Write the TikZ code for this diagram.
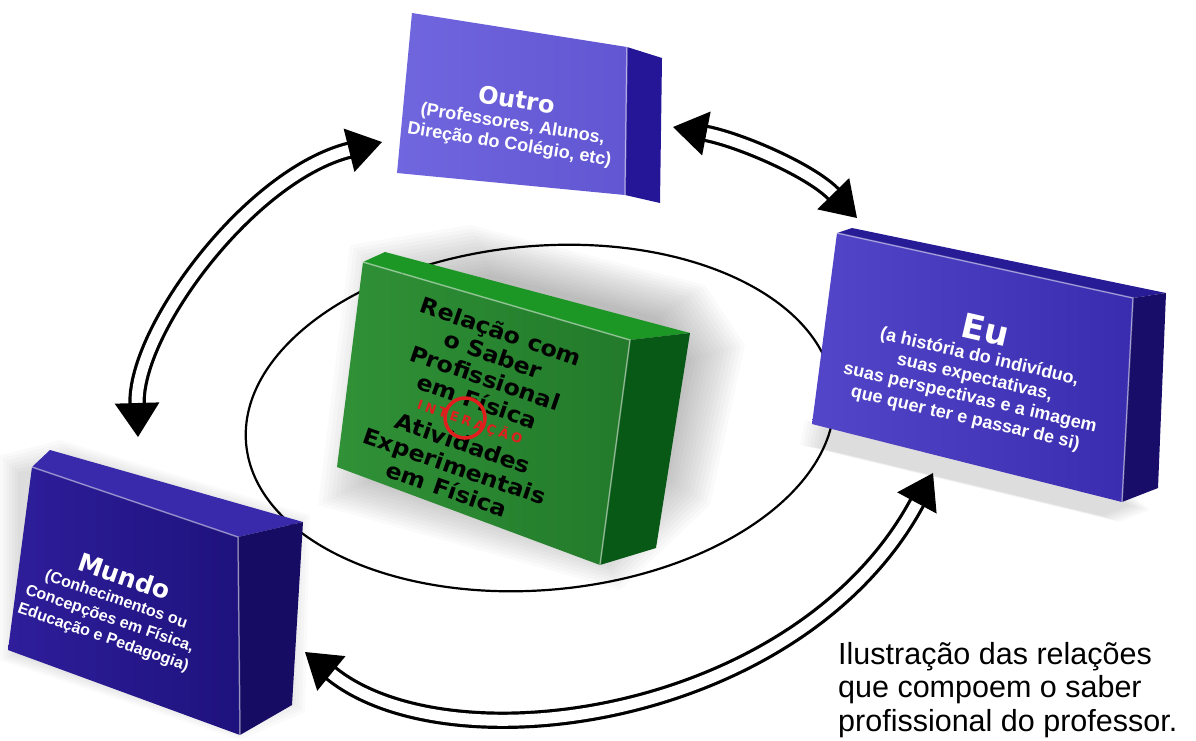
\documentclass[tikz,border=0pt]{standalone}
\usepackage{fontspec}
\setmainfont{Liberation Sans}
\newfontfamily\heavyfont{DejaVu Sans}
\newfontfamily\greenfont{DejaVu Sans}[FakeStretch=1.08]
\newfontfamily\redfont{DejaVu Sans}[LetterSpace=25]
\usepackage{xcolor}
\usepackage{tikz}
\usetikzlibrary{arrows.meta}
\definecolor{outroFrontA}{RGB}{112,102,222}
\definecolor{outroFrontB}{RGB}{98,86,210}
\definecolor{outroSide}{RGB}{36,22,150}
\definecolor{euFrontA}{RGB}{84,70,200}
\definecolor{euFrontB}{RGB}{58,44,175}
\definecolor{euTop}{RGB}{40,28,150}
\definecolor{euSide}{RGB}{24,14,105}
\definecolor{mundoFrontA}{RGB}{46,30,155}
\definecolor{mundoFrontB}{RGB}{30,18,125}
\definecolor{mundoTop}{RGB}{56,42,170}
\definecolor{mundoSide}{RGB}{22,12,100}
\definecolor{greenFrontA}{RGB}{48,145,55}
\definecolor{greenFrontB}{RGB}{34,122,42}
\definecolor{greenTop}{RGB}{28,150,36}
\definecolor{greenSide}{RGB}{8,88,22}
\definecolor{interRed}{RGB}{225,30,30}
\tikzstyle{dblarrow} = [draw=black, line width=3.2pt, double=white, double distance=11pt, {Triangle[length=34pt,width=44pt]}-{Triangle[length=34pt,width=44pt]}]

\begin{document}
\begin{tikzpicture}[x=1pt, y=-1pt]
    \tikzset{boxtext/.style = {text=white, align=center, inner sep=0pt, font=\bfseries\fontsize{18}{21}\selectfont},
    greentext/.style = {text=black, align=center, inner sep=0pt, font=\greenfont\bfseries\fontsize{22}{24.5}\selectfont},
    edge/.style = {draw=white, draw opacity=0.45, line width=1.5pt},
    shadowfill/.style = {fill=black, opacity=0.018}}

\useasboundingbox (0,0) rectangle (1196,740);

% soft shadows
\foreach \s in {1.00,0.98,...,0.70}
  \fill[shadowfill, scale around={\s:(540,400)}] (350,245) -- (470,225) -- (705,285) -- (745,345) -- (710,505) -- (620,590) -- (318,505) -- cycle;
\foreach \s in {1.00,0.98,...,0.86}
  \fill[shadowfill, scale around={\s:(970,470)}] (805,420) -- (1125,490) -- (1150,510) -- (1120,522) -- (800,445) -- cycle;
\foreach \s in {1.00,0.98,...,0.86}
  \fill[shadowfill, scale around={\s:(150,600)}] (0,455) -- (60,440) -- (310,515) -- (305,712) -- (240,740) -- (0,660) -- cycle;

% ellipse
\draw[line width=2.2pt, rotate around={5:(540,418)}] (540,418) ellipse [x radius=295, y radius=172];

% Outro
\fill[outroSide] (627,47) -- (662,58) -- (660,203) -- (625,195) -- cycle;
\shade[left color=outroFrontA, right color=outroFrontB] (412,13) -- (627,47) -- (625,195) -- (397,173) -- cycle;
\draw[edge] (627,47) -- (625,195);

% Eu
\fill[euTop] (837,233) -- (852,228) -- (1166,293) -- (1133,298) -- cycle;
\fill[euSide] (1133,298) -- (1166,293) -- (1158,488) -- (1122,502) -- cycle;
\shade[left color=euFrontA, right color=euFrontB] (837,233) -- (1133,298) -- (1122,502) -- (812,424) -- cycle;
\draw[edge] (837,233) -- (1133,298) -- (1122,502);

% Mundo
\fill[mundoTop] (32,467) -- (50,450) -- (303,522) -- (238,537) -- cycle;
\fill[mundoSide] (238,537) -- (303,522) -- (292,705) -- (240,735) -- cycle;
\shade[left color=mundoFrontA, right color=mundoFrontB] (32,467) -- (238,537) -- (240,735) -- (8,650) -- cycle;
\draw[edge] (32,467) -- (238,537) -- (240,735);

% Saber (green)
\fill[greenTop] (363,262) -- (385,252) -- (690,333) -- (630,340) -- cycle;
\fill[greenSide] (630,340) -- (690,333) -- (656,548) -- (600,565) -- cycle;
\shade[left color=greenFrontA, right color=greenFrontB] (363,262) -- (630,340) -- (600,565) -- (337,467) -- cycle;
\draw[edge] (363,262) -- (630,340) -- (600,565);

% texts
\node (outro) [boxtext, rotate=-9] at (513,122) {{\heavyfont\fontsize{24}{24}\selectfont Outro}\\(Professores, Alunos,\\Direção do Colégio, etc)};
\node (eu) [boxtext, rotate=-13] at (976,372) {{\heavyfont\fontsize{34}{34}\selectfont Eu}\\(a história do indivíduo,\\suas expectativas,\\suas perspectivas e a imagem\\que quer ter e passar de si)};
\node (mundo) [boxtext, rotate=-19, font=\bfseries\fontsize{16}{20}\selectfont] at (114,606) {{\heavyfont\fontsize{25}{25}\selectfont Mundo}\\(Conhecimentos ou\\Concepções em Física,\\Educação e Pedagogia)};

\node (interacao) [rotate=-19, text=interRed, font=\redfont\bfseries\fontsize{13}{14}\selectfont, inner sep=6pt] at (470,422) {INTERAÇÃO};
\node (saber) [greentext, rotate=-19, anchor=south] at (interacao.north) {Relação com\\o Saber\\Profissional\\em Física};
\node (atividades) [greentext, rotate=-19, anchor=north] at (interacao.south) {Atividades\\Experimentais\\em Física};
\node (ring) [circle, draw=interRed, line width=3.5pt, minimum size=40pt] at ([shift={(-5,-4)}]interacao.center) {};

\node (caption) [anchor=north west, align=left, inner sep=0pt, font=\fontsize{30.5}{33.5}\selectfont] at (838,642) {Ilustração das relações\\que compoem o saber\\profissional do professor.};

% arrows
\coordinate (mundo-n) at (138,437);
\coordinate (outro-w) at (382,142);
\coordinate (outro-e) at (673,127);
\coordinate (eu-n) at (857,218);
\coordinate (mundo-e) at (305,652);
\coordinate (eu-s) at (933,473);
\draw [dblarrow] (mundo-n) .. controls (135,330) and (250,175) .. (outro-w);
\draw [dblarrow] (outro-e) .. controls (740,140) and (810,170) .. (eu-n);
\draw [dblarrow] (mundo-e) .. controls (450,770) and (800,720) .. (eu-s);

\end{tikzpicture}
\end{document}
